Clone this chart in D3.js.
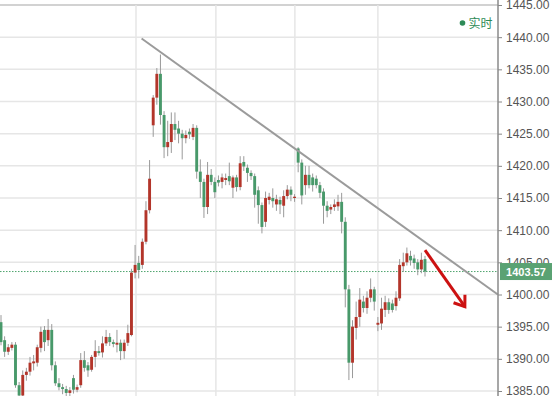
<!DOCTYPE html>
<html>
<head>
<meta charset="utf-8">
<script src="https://cdn.jsdelivr.net/npm/d3@7"></script>
<style>
  body { margin: 0; background: #fff; }
  svg { display: block; font-family: "Liberation Sans", Arial, sans-serif; }
</style>
</head>
<body>
<svg width="555" height="396"></svg>
<script>
// candles: open, high, low, close
const opens  = [1395.7,1392.9,1391.1,1391.7,1392.2,1385.9,1384.3,1387.5,1388.0,1389.3,1389.4,1391.7,1394.5,1392.9,1394.5,1389.0,1386.2,1385.6,1385.3,1384.7,
                1387.0,1385.2,1385.9,1389.8,1389.0,1388.3,1390.3,1391.2,1391.0,1392.4,1393.4,1392.6,1392.2,1392.5,1391.2,1392.5,1393.7,1403.4,1404.9,1404.6,
                1408.2,1413.1,1426.3,1430.6,1434.3,1427.9,1422.9,1423.7,1426.5,1425.8,1425.0,1424.3,1425.3,1424.5,1425.9,1419.1,1417.5,1413.6,1418.6,1417.5,
                1417.8,1417.5,1417.8,1418.4,1416.6,1418.2,1416.7,1420.6,1419.7,1418.9,1418.4,1416.2,1413.9,1411.3,1414.7,1415.0,1414.0,1414.7,1413.8,1415.3,
                1416.3,1415.0,1422.7,1420.5,1417.0,1418.6,1418.2,1418.0,1417.0,1416.0,1413.8,1413.2,1413.6,1413.7,1414.4,1411.3,1400.8,1389.4,1394.8,1396.5,
                1398.9,1397.9,1399.5,1400.8,1395.3,1395.5,1397.6,1398.8,1398.6,1398.2,1399.4,1404.4,1405.0,1406.0,1405.6,1405.0,1403.9,1405.5];
const highs  = [1396.8,1393.5,1392.3,1392.6,1392.6,1386.4,1388.2,1388.6,1390.3,1390.6,1392.2,1395.0,1395.1,1396.2,1395.4,1389.6,1387.0,1386.1,1385.8,1385.6,
                1387.5,1386.0,1390.9,1391.2,1389.5,1390.6,1392.9,1392.0,1393.5,1394.5,1394.0,1393.0,1394.5,1393.0,1393.0,1395.3,1404.0,1407.7,1406.0,1408.7,
                1414.5,1420.9,1431.0,1435.2,1437.3,1428.5,1427.0,1428.3,1428.3,1427.0,1425.6,1425.5,1425.8,1426.5,1426.3,1421.0,1418.0,1420.6,1419.5,1418.2,
                1418.5,1418.8,1418.8,1420.5,1418.5,1418.6,1421.5,1421.5,1420.2,1419.3,1418.8,1416.8,1414.3,1416.0,1415.8,1416.5,1415.5,1415.2,1416.2,1417.0,
                1416.8,1415.6,1422.9,1421.0,1420.0,1420.0,1418.8,1418.5,1417.5,1416.5,1414.5,1414.0,1414.8,1415.5,1415.8,1412.0,1401.5,1396.0,1398.9,1401.0,
                1399.8,1400.5,1402.5,1401.2,1396.5,1399.5,1399.8,1399.4,1399.2,1400.5,1405.5,1406.5,1407.3,1406.8,1406.2,1405.5,1406.5,1406.0];
const lows   = [1392.1,1390.3,1390.6,1391.3,1385.5,1383.8,1383.8,1386.6,1387.4,1388.2,1388.8,1391.0,1391.2,1392.0,1388.2,1385.8,1385.1,1384.5,1384.0,1384.0,
                1384.6,1384.8,1385.5,1388.0,1387.2,1388.0,1388.7,1390.5,1390.2,1392.0,1392.0,1391.8,1391.0,1389.8,1390.0,1392.0,1393.5,1402.5,1402.5,1404.0,
                1407.8,1412.6,1424.5,1429.5,1426.4,1421.2,1421.5,1422.0,1424.0,1423.5,1421.0,1423.5,1424.2,1424.0,1418.0,1415.0,1411.9,1412.5,1417.0,1415.0,
                1416.8,1416.5,1417.0,1417.0,1415.0,1416.0,1416.2,1419.2,1417.5,1417.8,1413.5,1411.0,1409.5,1410.5,1414.0,1413.5,1413.0,1412.5,1412.0,1414.8,
                1414.5,1414.4,1419.0,1414.0,1415.5,1416.5,1416.0,1416.5,1415.0,1411.0,1412.0,1412.5,1413.0,1413.0,1409.5,1398.0,1386.7,1387.0,1393.0,1395.0,
                1397.2,1397.0,1398.8,1397.5,1394.3,1394.5,1396.5,1397.0,1397.2,1397.5,1399.0,1403.5,1404.5,1404.5,1404.0,1403.0,1403.3,1402.8];
const closes = [1392.6,1391.1,1391.8,1392.2,1385.9,1384.3,1387.5,1388.0,1389.4,1389.6,1391.8,1394.2,1392.6,1394.5,1389.0,1386.2,1385.6,1385.3,1384.7,1385.1,
                1385.2,1385.6,1389.8,1388.6,1388.2,1390.3,1391.2,1390.9,1392.4,1393.4,1392.6,1392.3,1392.5,1391.2,1392.5,1394.0,1403.4,1404.6,1403.8,1408.2,
                1413.1,1418.0,1430.6,1434.3,1427.9,1422.9,1423.7,1426.5,1425.6,1425.0,1424.3,1424.8,1424.9,1425.9,1419.1,1417.5,1413.6,1418.6,1417.5,1415.9,
                1417.4,1418.2,1418.1,1417.6,1418.2,1416.7,1420.4,1419.9,1418.9,1418.4,1415.5,1413.9,1410.5,1415.0,1415.2,1414.5,1414.8,1414.0,1415.3,1416.3,
                1415.5,1415.2,1420.5,1415.4,1418.6,1417.0,1417.0,1417.0,1415.8,1413.8,1413.0,1413.6,1414.0,1414.4,1411.3,1400.8,1389.4,1395.0,1396.5,1399.2,
                1397.9,1399.5,1400.8,1398.9,1395.6,1397.8,1398.8,1397.6,1397.6,1399.5,1404.6,1405.0,1406.4,1405.3,1404.9,1403.9,1405.4,1403.57];

const priceTicks = [1385, 1390, 1395, 1400, 1405, 1410, 1415, 1420, 1425, 1430, 1435, 1440, 1445];
const timeGrid = [37.25, 59.3, 81.1, 104];          // bar positions of the vertical grid lines
const lastPrice = 1403.57;
const trendLine = [[38.8, 1439.8], [137.1, 1400]];   // [bar, price]
const arrowLine = [[117, 1406.9], [128, 1398.1]];
const liveLabel = "实时";

const W = 555, H = 396, axisX = 498;
const upColor = "#b3352a", downColor = "#48996a";

const svg = d3.select("svg");

const x = d3.scaleLinear().domain([0, opens.length - 1]).range([1, 425]);
const y = d3.scaleLinear().domain([1385, 1445]).range([391, 5]);
const barW = 2.9;

// grid
svg.append("g")
  .selectAll("line")
  .data(priceTicks)
  .enter()
  .append("line")
  .attr("x1", 0).attr("x2", axisX)
  .attr("y1", d => y(d)).attr("y2", d => y(d))
  .style("stroke", d => d === 1445 ? "#d2d2d2" : "#e6e6e6")
  .style("stroke-width", d => d === 1445 ? 2 : 1.5);

svg.append("g")
  .selectAll("line")
  .data(timeGrid)
  .enter()
  .append("line")
  .attr("x1", d => x(d)).attr("x2", d => x(d))
  .attr("y1", y(1445)).attr("y2", H)
  .style("stroke", "#e6e6e6")
  .style("stroke-width", 1.5);

// last price dotted line
svg.append("line")
  .attr("x1", 0).attr("x2", axisX)
  .attr("y1", y(lastPrice)).attr("y2", y(lastPrice))
  .style("stroke", "#4fa56e")
  .style("stroke-width", 1)
  .style("stroke-dasharray", "1.5,1.5");

// candles
let candles = opens.map((o, i) => ({ i: i, o: o, h: highs[i], l: lows[i], c: closes[i] }));

let candleG = svg.append("g")
  .selectAll("g")
  .data(candles)
  .enter()
  .append("g");

candleG.append("line")
  .attr("x1", d => x(d.i)).attr("x2", d => x(d.i))
  .attr("y1", d => y(d.h)).attr("y2", d => y(d.l))
  .style("stroke", "#9a9a9a")
  .style("stroke-width", 1);

candleG.append("rect")
  .attr("x", d => x(d.i) - barW / 2)
  .attr("width", barW)
  .attr("y", d => y(Math.max(d.o, d.c)))
  .attr("height", d => Math.max(1, Math.abs(y(d.o) - y(d.c))))
  .style("fill", d => d.c >= d.o ? upColor : downColor);

// trend line
svg.append("line")
  .attr("x1", x(trendLine[0][0])).attr("y1", y(trendLine[0][1]))
  .attr("x2", x(trendLine[1][0])).attr("y2", y(trendLine[1][1]))
  .style("stroke", "#9b9b9b")
  .style("stroke-width", 2);

// red arrow
let ax1 = x(arrowLine[0][0]), ay1 = y(arrowLine[0][1]);
let ax2 = x(arrowLine[1][0]), ay2 = y(arrowLine[1][1]);
let ang = Math.atan2(ay2 - ay1, ax2 - ax1);
let headLen = 12, spread = 0.62;
svg.append("line")
  .attr("x1", ax1).attr("y1", ay1).attr("x2", ax2).attr("y2", ay2)
  .style("stroke", "#cc1111").style("stroke-width", 3);
svg.append("path")
  .attr("d", `M${ax2 - headLen * Math.cos(ang - spread)},${ay2 - headLen * Math.sin(ang - spread)}
              L${ax2},${ay2}
              L${ax2 - headLen * Math.cos(ang + spread)},${ay2 - headLen * Math.sin(ang + spread)}`)
  .style("fill", "none")
  .style("stroke", "#cc1111")
  .style("stroke-width", 3)
  .style("stroke-linejoin", "miter");

// price axis
let axis = svg.append("g")
  .attr("transform", `translate(${axisX},0)`)
  .call(d3.axisRight(y).tickValues(priceTicks).tickSize(4).tickSizeOuter(0).tickPadding(4).tickFormat(d3.format(".2f")));
axis.select(".domain").remove();
axis.selectAll(".tick line").style("stroke", "#888");
axis.selectAll(".tick text")
  .style("fill", "#555")
  .style("font-size", "12px")
  .style("font-family", "'Liberation Sans', Arial, sans-serif");

svg.append("line")
  .attr("x1", axisX).attr("x2", axisX)
  .attr("y1", 0).attr("y2", H)
  .style("stroke", "#8a8a8a")
  .style("stroke-width", 1.5);

// last price tag
svg.append("rect")
  .attr("x", axisX + 2).attr("width", 52)
  .attr("y", y(lastPrice) - 8.5).attr("height", 17)
  .style("fill", "#5aa273");
svg.append("text")
  .attr("x", axisX + 28).attr("y", y(lastPrice) + 4)
  .attr("text-anchor", "middle")
  .style("fill", "#fff")
  .style("font-size", "11px")
  .style("font-weight", "bold")
  .text(lastPrice.toFixed(2));

// live marker
svg.append("circle")
  .attr("cx", 462.5).attr("cy", 23)
  .attr("r", 2.8)
  .style("fill", "#2e8b57");
svg.append("text")
  .attr("x", 468.5).attr("y", 27.5)
  .style("fill", "#2e8b57")
  .style("font-size", "12px")
  .style("font-family", "'Noto Sans CJK SC', sans-serif")
  .text(liveLabel);
</script>
</body>
</html>
